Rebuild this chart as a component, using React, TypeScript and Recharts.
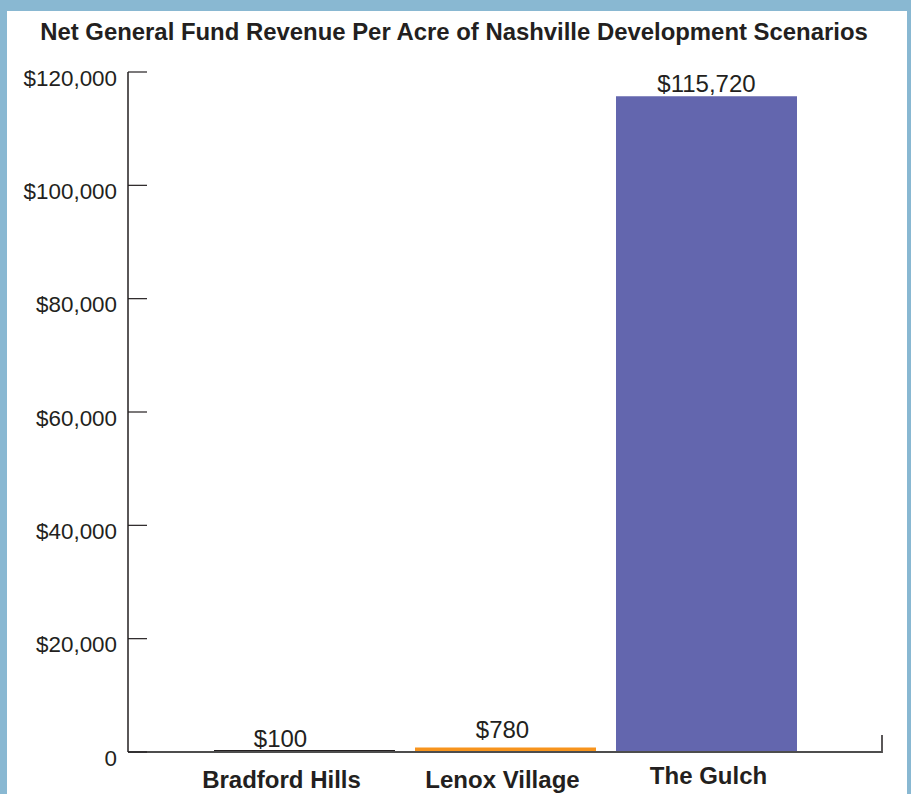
import React from "react";
import { BarChart, Bar, Cell, XAxis, YAxis, LabelList } from "recharts";

// Chart data
const scenarios = ["Bradford Hills", "Lenox Village", "The Gulch"];
const revenuePerAcre = [100, 780, 115720];
const barColors = ["#231f20", "#f7941d", "#6366ae"];
const yTicks = [0, 20000, 40000, 60000, 80000, 100000, 120000];

const chartData = scenarios.map((name, i) => ({
  name,
  value: revenuePerAcre[i],
  color: barColors[i],
}));

// small per-label nudges to follow the original artwork
const catLabelShift = [-23, -3, 2];
const catLabelDrop = [36, 36, 32];
const valueLabelShift = [-24, -3, 0];
const valueLabelGap = [3, 10, 4];

const FONT = "'Liberation Sans', Arial, Helvetica, sans-serif";
const TEXT = "#231f20";
const W = 911;
const H = 794;
const M = { top: 72, right: 29, bottom: 0, left: 0 };
const Y_AXIS_W = 128;
const X_AXIS_H = 42;

const money = (v: number) => (v === 0 ? "0" : "$" + v.toLocaleString("en-US"));

const YTick = ({ x, y, payload }: any) => (
  <g>
    <line x1={x} x2={x + 19} y1={y} y2={y} stroke="#231f20" strokeWidth={1.2} />
    <text
      x={x - 11}
      y={y + 13.5}
      textAnchor="end"
      fontFamily={FONT}
      fontSize={22.4}
      fill={TEXT}
    >
      {money(payload.value)}
    </text>
  </g>
);

const XTick = ({ x, y, payload, index }: any) => (
  <text
    x={x + (catLabelShift[index] || 0)}
    y={y + (catLabelDrop[index] || 36)}
    textAnchor="middle"
    fontFamily={FONT}
    fontSize={24}
    fontWeight="bold"
    fill={TEXT}
  >
    {payload.value}
  </text>
);

const ValueLabel = ({ x, y, width, value, index }: any) => (
  <text
    x={x + width / 2 + (valueLabelShift[index] || 0)}
    y={y - (valueLabelGap[index] || 4)}
    textAnchor="middle"
    fontFamily={FONT}
    fontSize={24}
    fill={TEXT}
  >
    {money(value)}
  </text>
);

export default function App() {
  const plotBottom = H - M.bottom - X_AXIS_H;
  const plotRight = W - M.right;
  return (
    <div
      style={{
        position: "absolute",
        left: 0,
        top: 0,
        width: W,
        height: H,
        background: "#89b8d2",
        overflow: "hidden",
      }}
    >
      <div
        style={{
          position: "absolute",
          left: 7,
          top: 11,
          width: 900,
          height: H - 11,
          background: "#ffffff",
        }}
      />
      <div
        style={{
          position: "absolute",
          left: 0,
          top: 20,
          width: 908,
          textAlign: "center",
          fontFamily: FONT,
          fontWeight: "bold",
          fontSize: 23.9,
          lineHeight: "24px",
          color: TEXT,
          whiteSpace: "nowrap",
        }}
      >
        Net General Fund Revenue Per Acre of Nashville Development Scenarios
      </div>
      <div style={{ position: "absolute", left: 0, top: 0 }}>
        <BarChart width={W} height={H} data={chartData} margin={M} barCategoryGap={10}>
          <XAxis
            dataKey="name"
            height={X_AXIS_H}
            padding={{ left: 76, right: 75 }}
            axisLine={{ stroke: "#4d4d4d", strokeWidth: 2 }}
            tickLine={false}
            tickSize={0}
            tickMargin={0}
            tick={<XTick />}
            interval={0}
          />
          <YAxis
            width={Y_AXIS_W}
            domain={[0, 120000]}
            ticks={yTicks}
            interval={0}
            axisLine={{ stroke: "#231f20", strokeWidth: 1.5 }}
            tickLine={false}
            tickSize={0}
            tickMargin={0}
            tick={<YTick />}
          />
          <Bar dataKey="value" isAnimationActive={false} minPointSize={2}>
            {chartData.map((d, i) => (
              <Cell key={i} fill={d.color} />
            ))}
            <LabelList dataKey="value" content={<ValueLabel />} />
          </Bar>
          <line
            x1={plotRight}
            x2={plotRight}
            y1={plotBottom - 17}
            y2={plotBottom + 1}
            stroke="#231f20"
            strokeWidth={1.5}
          />
        </BarChart>
      </div>
    </div>
  );
}
